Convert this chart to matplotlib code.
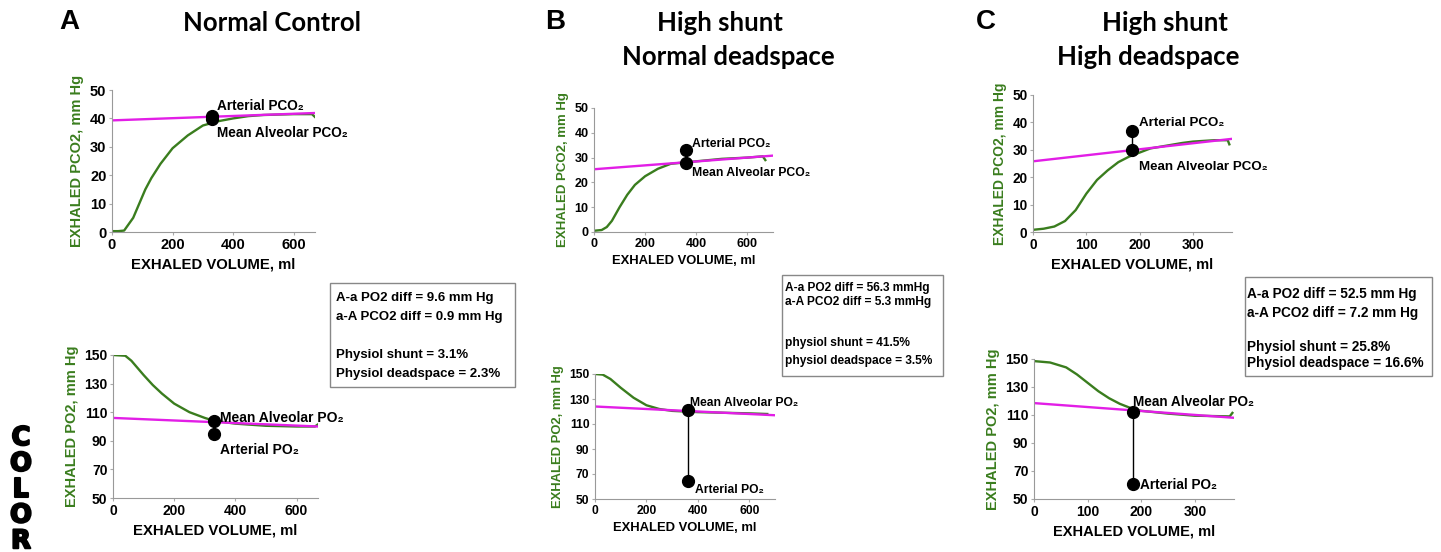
import numpy as np
import matplotlib.pyplot as plt
import matplotlib.patheffects as pe
from matplotlib.patches import Rectangle

# ---- data ----
# panel A, normal control
a_vol_co2 = [0, 20, 40, 50, 70, 90, 110, 130, 160, 200, 250, 300, 350, 400, 450, 500, 600, 660, 670]
a_co2 = [0.3, 0.3, 0.5, 2, 5, 10, 15, 19, 24, 29.5, 34, 37.5, 39, 40, 40.8, 41.2, 41.5, 41.5, 40.5]
a_co2_fit = [39.3, 41.9]
a_co2_art, a_co2_alv = 40.8, 39.9
a_vol_o2 = [0, 40, 60, 80, 100, 130, 160, 200, 250, 300, 330, 400, 500, 600, 660, 670]
a_o2 = [150, 149.5, 146, 141, 136, 129, 123, 116, 110, 106, 104, 102, 100.5, 100, 100, 101.5]
a_o2_fit = [106, 100]
a_o2_art, a_o2_alv = 94.8, 104
a_mark = 330
a_xmax = 670

# panel B, high shunt / normal deadspace
b_vol_co2 = [0, 30, 50, 70, 100, 130, 160, 200, 250, 300, 350, 400, 500, 600, 660, 670]
b_co2 = [0.5, 0.8, 2, 4.5, 10, 15, 19, 22.5, 25.5, 27.5, 28, 28.5, 29.5, 30, 30.5, 29]
b_co2_fit = [25.3, 30.8]
b_co2_art, b_co2_alv = 33, 28
b_vol_o2 = [0, 30, 60, 100, 150, 200, 250, 300, 350, 400, 500, 600, 670]
b_o2 = [150, 149.5, 146, 139, 131, 125, 122, 120.5, 120, 119.5, 119, 118.5, 118]
b_o2_fit = [124, 117]
b_o2_art, b_o2_alv = 64.5, 121
b_mark = 360
b_xmax = 700

# panel C, high shunt / high deadspace
c_vol_co2 = [0, 20, 40, 60, 80, 100, 120, 140, 160, 180, 200, 220, 250, 280, 300, 340, 365, 368]
c_co2 = [0.8, 1.2, 2, 4, 8, 14, 19, 22.5, 25.5, 27.5, 29, 30.5, 31.5, 32.5, 33, 33.5, 33.5, 32]
c_co2_fit = [25.8, 34]
c_co2_art, c_co2_alv = 36.8, 29.8
c_vol_o2 = [0, 30, 60, 80, 100, 120, 140, 160, 180, 200, 250, 300, 365, 370]
c_o2 = [148.5, 147.5, 144, 139, 133, 127, 122, 118, 115, 113, 111, 109.5, 109, 111.5]
c_o2_fit = [118.5, 108]
c_o2_art, c_o2_alv = 61, 112.5
c_mark = 185
c_xmax = 373

W, H = 1441, 552
GREEN = '#3a7d1e'
PINK = '#e21ee6'
FONT = ['Liberation Sans', 'DejaVu Sans']
plt.rcParams['font.family'] = FONT
plt.rcParams['font.weight'] = 'bold'
plt.rcParams['axes.labelweight'] = 'bold'

fig = plt.figure(figsize=(W / 100, H / 100), dpi=100)


def box(l, t, r, b):
    return [l / W, 1 - b / H, (r - l) / W, (b - t) / H]


def px(x, y):
    return x / W, 1 - y / H


def panel(rect, vol, vals, fit, art, alv, mark, xmax, ylim, yticks, xticks, ylab, gas,
          lab_art, lab_alv, fs_ann, fs_tick, fs_xl, fs_yl):
    ax = fig.add_axes(box(*rect))
    ax.plot(vol, vals, color=GREEN, lw=1.7)
    ax.plot([0, xmax], fit, color=PINK, lw=1.7)
    ax.plot([mark, mark], [art, alv], color='black', lw=1)
    ax.plot([mark, mark], [art, alv], 'o', color='black', ms=8.5)
    ax.text(lab_art[0], lab_art[1], 'Arterial ' + gas, fontsize=fs_ann, va='center', weight='bold')
    ax.text(lab_alv[0], lab_alv[1], 'Mean Alveolar ' + gas, fontsize=fs_ann, va='center', weight='bold')
    ax.set_xlim(0, xmax)
    ax.set_ylim(*ylim)
    ax.set_xticks(xticks)
    ax.set_yticks(yticks)
    ax.tick_params(labelsize=fs_tick, length=2, color='#aaaaaa', pad=2)
    for lab in ax.get_xticklabels() + ax.get_yticklabels():
        lab.set_fontweight('bold')
    for s in ['top', 'right']:
        ax.spines[s].set_visible(False)
    for s in ['left', 'bottom']:
        ax.spines[s].set_color('#999999')
    ax.set_xlabel('EXHALED VOLUME, ml', fontsize=fs_xl, labelpad=4, weight='bold')
    ax.set_ylabel(ylab, fontsize=fs_yl, color=GREEN, labelpad=4, weight='bold')
    return ax


co2_lab = 'EXHALED PCO2, mm Hg'
o2_lab = 'EXHALED PO2, mm Hg'
co2_ticks = [0, 10, 20, 30, 40, 50]
o2_ticks = [50, 70, 90, 110, 130, 150]

# panel A
panel((112, 90, 315, 232), a_vol_co2, a_co2, a_co2_fit, a_co2_art, a_co2_alv, a_mark, a_xmax,
      (0, 50), co2_ticks, [0, 200, 400, 600], co2_lab, 'PCO₂', (346, 44.4), (346, 34.9),
      9.8, 10.5, 10.7, 10.5)
panel((113, 355, 318, 498), a_vol_o2, a_o2, a_o2_fit, a_o2_art, a_o2_alv, a_mark, a_xmax,
      (50, 150), o2_ticks, [0, 200, 400, 600], o2_lab, 'PO₂', (351, 83.6), (351, 106),
      10, 10, 10.7, 10.5)

# panel B
panel((594, 108, 773, 232), b_vol_co2, b_co2, b_co2_fit, b_co2_art, b_co2_alv, b_mark, b_xmax,
      (0, 50), co2_ticks, [0, 200, 400, 600], co2_lab, 'PCO₂', (383, 35.5), (383, 23.8),
      8.8, 9, 9.4, 9.5)
panel((595, 374, 775, 499), b_vol_o2, b_o2, b_o2_fit, b_o2_art, b_o2_alv, b_mark, b_xmax,
      (50, 150), o2_ticks, [0, 200, 400, 600], o2_lab, 'PO₂', (390, 57), (370, 126.8),
      8.7, 8.7, 9.4, 9.4)

# panel C
panel((1033, 95, 1232, 232), c_vol_co2, c_co2, c_co2_fit, c_co2_art, c_co2_alv, c_mark, c_xmax,
      (0, 50), co2_ticks, [0, 100, 200, 300], co2_lab, 'PCO₂', (199, 39.8), (199, 23.7),
      9.6, 9.8, 10.5, 10)
panel((1034, 359, 1234, 499), c_vol_o2, c_o2, c_o2_fit, c_o2_art, c_o2_alv, c_mark, c_xmax,
      (50, 150), o2_ticks, [0, 100, 200, 300], o2_lab, 'PO₂', (197.5, 60), (184.5, 119),
      9.8, 10, 10.5, 10.5)

# titles
tf = ['Lato', 'DejaVu Sans']
for x, ch in [(59, 'A'), (545, 'B'), (976, 'C')]:
    fig.text(*px(x, 22), ch, fontsize=20, va='center', ha='left', weight='bold')
fig.text(*px(272, 23), 'Normal Control', fontsize=18.5, family=tf, weight='bold', va='center', ha='center')
fig.text(*px(720, 23), 'High shunt', fontsize=18.5, family=tf, weight='bold', va='center', ha='center')
fig.text(*px(728, 57), 'Normal deadspace', fontsize=18.5, family=tf, weight='bold', va='center', ha='center')
fig.text(*px(1165, 23), 'High shunt', fontsize=18.5, family=tf, weight='bold', va='center', ha='center')
fig.text(*px(1148, 57), 'High deadspace', fontsize=18.5, family=tf, weight='bold', va='center', ha='center')

# result boxes
boxes = [
    ((330, 283, 515, 387), 336, [298, 317, 355, 374], 9.5,
     ['A-a PO2 diff = 9.6 mm Hg', 'a-A PCO2 diff = 0.9 mm Hg', 'Physiol shunt = 3.1%', 'Physiol deadspace = 2.3%']),
    ((782, 275, 943, 376), 785, [288, 302, 343, 361], 8.6,
     ['A-a PO2 diff = 56.3 mmHg', 'a-A PCO2 diff = 5.3 mmHg', 'physiol shunt = 41.5%', 'physiol deadspace = 3.5%']),
    ((1245, 277, 1432, 376), 1247, [294, 313, 347, 363], 9.8,
     ['A-a PO2 diff = 52.5 mm Hg', 'a-A PCO2 diff = 7.2 mm Hg', 'Physiol shunt = 25.8%', 'Physiol deadspace = 16.6%']),
]
for (l, t, r, b), x0, ys, fs, lines in boxes:
    fig.patches.append(Rectangle(px(l, b), (r - l) / W, (b - t) / H, transform=fig.transFigure,
                                 fill=False, edgecolor='#888888', lw=1))
    for y, s in zip(ys, lines):
        fig.text(*px(x0, y), s, fontsize=fs, va='center', ha='left', weight='bold')

# side label, letters stacked in one text
fig.text(*px(21, 425), '\n'.join('COLOR'), fontsize=18.5, va='top', ha='center',
         multialignment='center', linespacing=0.99,
         family=['DejaVu Sans'], weight='bold',
         path_effects=[pe.withStroke(linewidth=1.5, foreground='black')])

fig.savefig('out.png', dpi=100)
